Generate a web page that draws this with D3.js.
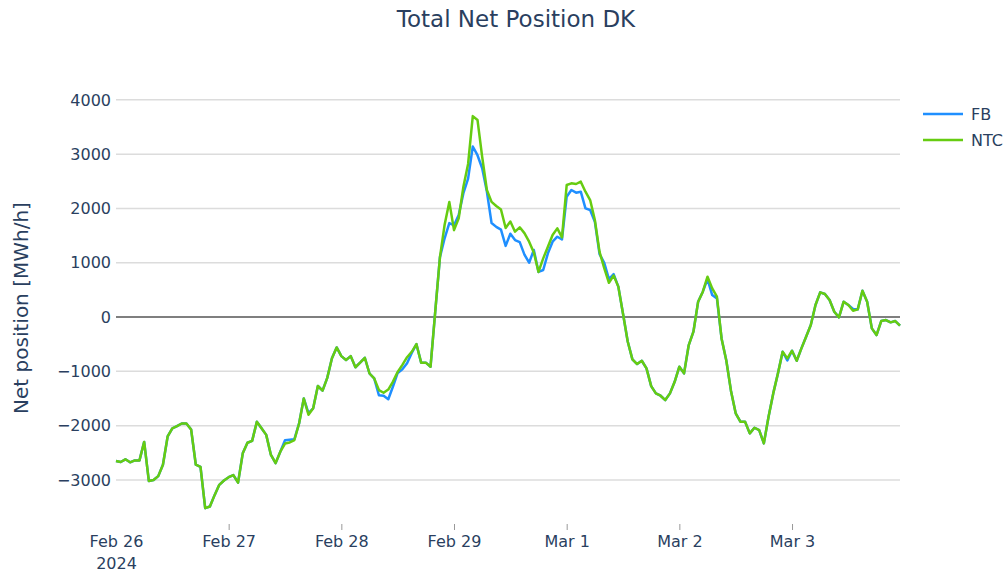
<!DOCTYPE html>
<html>
<head>
<meta charset="UTF-8">
<script src="https://cdnjs.cloudflare.com/ajax/libs/d3/7.8.5/d3.min.js"></script>
<style>
  body { margin: 0; background: #fff; }
  text { font-family: "DejaVu Sans", Verdana, sans-serif; fill: #2a3f5f; }
</style>
</head>
<body>
<svg id="chart"></svg>
<script>
// ---------- data ----------
var startDate = new Date(2024, 1, 26, 0, 0);   // hourly values from Feb 26 00:00
var seriesNames = ["FB", "NTC"];
var seriesColors = ["#1f8fff", "#66cc11"];

var fb = [
  -2650, -2670, -2620, -2675, -2640, -2640, -2300, -3020, -3000, -2930,
  -2720, -2200, -2050, -2010, -1960, -1960, -2070, -2720, -2760, -3520,
  -3490, -3280, -3090, -3010, -2950, -2910, -3050, -2510, -2315, -2280,
  -1930, -2050, -2170, -2540, -2690, -2480, -2270, -2260, -2250, -1960,
  -1500, -1770, -1680, -1270, -1355, -1120, -760, -560, -720, -790,
  -720, -925, -840, -750, -1040, -1130, -1440, -1450, -1515, -1280,
  -1030, -960, -850, -660, -500, -840, -840, -915, 100, 1100,
  1450, 1730, 1690, 1880, 2280, 2550, 3140, 2980, 2740, 2310,
  1730, 1660, 1610, 1310, 1535, 1418, 1380, 1150, 1000, 1235,
  830, 866, 1173, 1387, 1479, 1431, 2216, 2339, 2290, 2308,
  2001, 1971, 1756, 1160, 1000, 700, 790, 560, 60, -450,
  -780, -866, -805, -946, -1272, -1406, -1449, -1529, -1406, -1192,
  -915, -1038, -516, -270, 283, 467, 700, 405, 344, -400,
  -800, -1360, -1774, -1928, -1928, -2143, -2039, -2082, -2327, -1836,
  -1406, -1038, -639, -800, -620, -805, -577, -362, -147, 221,
  455, 424, 313, 98, -6, 283, 221, 150, 141, 485,
  283, -209, -332, -74, -55, -98, -74, -160
];

var ntc = [
  -2650, -2670, -2620, -2675, -2640, -2640, -2300, -3020, -3000, -2930,
  -2720, -2200, -2050, -2010, -1960, -1960, -2070, -2720, -2760, -3520,
  -3490, -3280, -3090, -3010, -2950, -2910, -3050, -2510, -2315, -2280,
  -1930, -2050, -2170, -2540, -2690, -2480, -2330, -2310, -2265, -1960,
  -1500, -1800, -1680, -1270, -1355, -1120, -760, -560, -720, -790,
  -720, -925, -840, -750, -1040, -1130, -1345, -1395, -1335, -1190,
  -1010, -880, -740, -640, -500, -840, -840, -915, 100, 1100,
  1700, 2120, 1600, 1820, 2400, 2820, 3700, 3630, 2950, 2340,
  2120, 2045, 1980, 1640, 1760, 1572, 1652, 1545, 1388, 1190,
  830, 1080, 1295, 1510, 1633, 1468, 2431, 2462, 2450, 2493,
  2308, 2155, 1787, 1200, 900, 630, 765, 560, 60, -450,
  -780, -866, -805, -946, -1272, -1406, -1449, -1529, -1406, -1192,
  -915, -1038, -516, -270, 283, 467, 743, 528, 374, -400,
  -800, -1360, -1774, -1928, -1928, -2143, -2039, -2082, -2327, -1836,
  -1406, -1038, -639, -761, -620, -805, -577, -362, -147, 221,
  455, 424, 313, 98, -6, 283, 221, 116, 141, 485,
  283, -209, -332, -74, -55, -98, -74, -160
];

var yTicks = [-3000, -2000, -1000, 0, 1000, 2000, 3000, 4000];

// ---------- layout ----------
var width = 1008, height = 573;
var margin = { top: 78, right: 108, bottom: 50, left: 116 };
var innerW = width - margin.left - margin.right;
var innerH = height - margin.top - margin.bottom;

var svg = d3.select("#chart").attr("width", width).attr("height", height);

var hourTime = function (i) { return d3.timeHour.offset(startDate, i); };

var x = d3.scaleTime()
  .domain([startDate, hourTime(ntc.length - 1)])
  .range([margin.left, margin.left + innerW]);

var y = d3.scaleLinear()
  .domain([-3793, 4402])
  .range([margin.top + innerH, margin.top]);

// grid
svg.append("g").selectAll("line")
  .data(yTicks.filter(function (d) { return d !== 0; }))
  .enter().append("line")
  .attr("x1", margin.left).attr("x2", margin.left + innerW)
  .attr("y1", function (d) { return y(d); }).attr("y2", function (d) { return y(d); })
  .attr("stroke", "#dcdcdc").attr("stroke-width", 1.5);

// y tick labels
svg.append("g").selectAll("text")
  .data(yTicks)
  .enter().append("text")
  .attr("x", 111).attr("y", function (d) { return y(d); })
  .attr("dy", "0.36em")
  .attr("text-anchor", "end")
  .style("font-size", "16px")
  .text(function (d) { return d < 0 ? "\u2212" + Math.abs(d) : d; });

// x axis
var xAxis = d3.axisBottom(x)
  .ticks(d3.timeDay.every(1))
  .tickSize(6)
  .tickFormat(d3.timeFormat("%b %-d"));

var gx = svg.append("g")
  .attr("transform", "translate(0," + (margin.top + innerH + 1) + ")")
  .call(xAxis);
gx.select(".domain").remove();
gx.selectAll(".tick line").attr("stroke", "#999").attr("stroke-width", 1);
gx.select(".tick line").remove();   // no tick mark at the left edge
gx.selectAll(".tick text")
  .attr("y", 23).attr("dy", 0)
  .style("font-size", "16px").style("font-family", "DejaVu Sans").attr("fill", "#2a3f5f");
gx.select(".tick").append("text")
  .attr("y", 45).attr("text-anchor", "middle")
  .style("font-size", "16px").attr("fill", "#2a3f5f")
  .text("2024");

// zero line
svg.append("line")
  .attr("x1", margin.left).attr("x2", margin.left + innerW)
  .attr("y1", y(0)).attr("y2", y(0))
  .attr("stroke", "#7f7f7f").attr("stroke-width", 2);

// lines
var line = d3.line()
  .x(function (d, i) { return x(hourTime(i)); })
  .y(function (d) { return y(d); });

[fb, ntc].forEach(function (s, k) {
  svg.append("path")
    .datum(s)
    .attr("d", line)
    .attr("fill", "none")
    .attr("stroke", seriesColors[k])
    .attr("stroke-width", 2.5)
    .attr("stroke-linejoin", "round");
});

// title
svg.append("text")
  .attr("x", 516).attr("y", 27)
  .attr("text-anchor", "middle")
  .style("font-size", "23px")
  .text("Total Net Position DK");

// y label
svg.append("text")
  .attr("transform", "translate(28,308) rotate(-90)")
  .attr("text-anchor", "middle")
  .style("font-size", "20px")
  .text("Net position [MWh/h]");

// legend
var legend = svg.append("g").selectAll("g")
  .data(seriesNames)
  .enter().append("g")
  .attr("transform", function (d, i) { return "translate(923," + (114 + i * 26) + ")"; });
legend.append("line")
  .attr("x1", 0).attr("x2", 40)
  .attr("stroke", function (d, i) { return seriesColors[i]; })
  .attr("stroke-width", 2.5);
legend.append("text")
  .attr("x", 48).attr("dy", "0.36em")
  .style("font-size", "16px")
  .text(function (d) { return d; });
</script>
</body>
</html>
